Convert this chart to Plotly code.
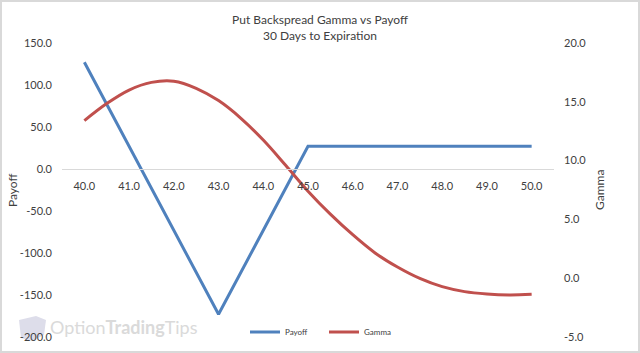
import plotly.graph_objects as go

FONT = "Lato"
TXT = "#404040"

strike = [40, 43, 45, 50]
payoff = [127, -173, 27, 27]
gamma_x = [40, 40.5, 41, 41.5, 42, 42.5, 43, 43.5, 44, 44.5, 45, 45.5, 46, 46.5, 47, 47.5, 48, 48.5, 49, 49.5, 50]
gamma = [13.4, 14.85, 16.0, 16.65, 16.75, 16.15, 15.1, 13.6, 11.75, 9.6, 7.4, 5.45, 3.7, 2.15, 0.95, -0.02, -0.72, -1.14, -1.34, -1.42, -1.37]
x_ticks = [40, 41, 42, 43, 44, 45, 46, 47, 48, 49, 50]
left_ticks = [150, 100, 50, 0, -50, -100, -150, -200]
right_ticks = [20, 15, 10, 5, 0, -5]

W, H = 640, 353
L, R, T, B = 62, 554, 43, 337


def px(x):
    return (x - L) / (R - L)


def py(y):
    return (B - y) / (B - T)


fig = go.Figure()
fig.add_trace(go.Scatter(x=strike, y=payoff, name="Payoff", mode="lines",
                         line=dict(color="#4F81BD", width=3)))
fig.add_trace(go.Scatter(x=gamma_x, y=gamma, name="Gamma", mode="lines", yaxis="y2",
                         line=dict(color="#C0504D", width=3, shape="spline", smoothing=1.0)))

fig.update_layout(
    width=W, height=H, autosize=False,
    margin=dict(l=L, r=W - R, t=T, b=H - B, pad=0, autoexpand=False),
    paper_bgcolor="white", plot_bgcolor="white",
    font=dict(family=FONT, size=11, color=TXT),
    title=dict(text="Put Backspread Gamma vs Payoff<br>30 Days to Expiration",
               x=320 / W, xanchor="center", y=1 - 24 / H, yanchor="top",
               font=dict(family=FONT, size=12, color=TXT)),
    showlegend=True,
    legend=dict(orientation="h", x=px(324), y=py(332), xanchor="center", yanchor="middle",
                entrywidth=34, font=dict(family=FONT, size=8, color=TXT), bgcolor="rgba(0,0,0,0)"),
    xaxis=dict(range=[39.5, 50.5], tickmode="array", tickvals=x_ticks,
               ticktext=[f"{v:.1f}" for v in x_ticks],
               anchor="free", position=py(169), showgrid=False, zeroline=False,
               showline=True, linecolor="#D9D9D9", linewidth=1, ticks="", ticklabelstandoff=7,
               tickfont=dict(family=FONT, size=11, color=TXT)),
    yaxis=dict(range=[-200, 150], tickmode="array", tickvals=left_ticks,
               ticktext=[f"{v:.1f}" for v in left_ticks], showgrid=False, zeroline=False,
               showline=False, ticks="", ticklabelstandoff=9,
               tickfont=dict(family=FONT, size=11, color=TXT)),
    yaxis2=dict(range=[-5, 20], overlaying="y", side="right", tickmode="array",
                tickvals=right_ticks, ticktext=[f"{v:.1f}" for v in right_ticks],
                showgrid=False, zeroline=False, showline=False, ticks="", ticklabelstandoff=9,
                tickfont=dict(family=FONT, size=11, color=TXT)),
    shapes=[
        dict(type="rect", xref="paper", yref="paper", layer="below",
             x0=px(1), x1=px(639), y0=py(1), y1=py(352),
             line=dict(color="#D9D9D9", width=2), fillcolor="white"),
        dict(type="path", xref="paper", yref="paper", layer="below",
             path=f"M {px(19)} {py(320)} L {px(36)} {py(316)} L {px(46)} {py(320)} L {px(44)} {py(335)} "
                  f"L {px(32)} {py(341)} L {px(21)} {py(338)} Z",
             fillcolor="#DDDDEA", line=dict(width=0)),
    ],
    annotations=[
        dict(text="Option<b>Trading</b>Tips", xref="paper", yref="paper", x=px(48), y=py(327),
             xanchor="left", yanchor="middle", showarrow=False,
             font=dict(family=FONT, size=18, color="#DADADA")),
        dict(text="Payoff", xref="paper", yref="paper", x=px(12), y=py(190), textangle=-90,
             xanchor="center", yanchor="middle", showarrow=False,
             font=dict(family=FONT, size=12, color=TXT)),
        dict(text="Gamma", xref="paper", yref="paper", x=px(599), y=py(190), textangle=-90,
             xanchor="center", yanchor="middle", showarrow=False,
             font=dict(family=FONT, size=12, color=TXT)),
    ],
)

fig.write_html("out.html", config={"displayModeBar": False},
               post_script="document.body.style.margin='0';")
